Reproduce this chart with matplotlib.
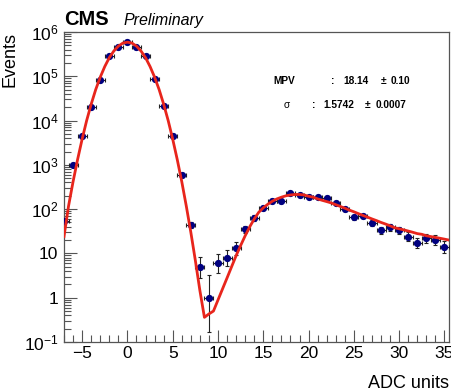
import numpy as np
import matplotlib.pyplot as plt
from matplotlib.ticker import FixedLocator, FixedFormatter, LogLocator, MultipleLocator, NullFormatter

plt.rcParams['font.family'] = ['Liberation Sans', 'DejaVu Sans']
plt.rcParams['mathtext.fontset'] = 'custom'
plt.rcParams['mathtext.rm'] = 'Liberation Sans'
plt.rcParams['mathtext.default'] = 'regular'

# measured spectrum, one entry per ADC bin
adc_bins = np.arange(-7, 36)
counts = [54, 1000, 4500, 20000, 83000, 290000, 460000, 600000, 460000, 280000,
          87000, 21000, 4500, 580, 44, 5, 1, 6, 8, 13,
          35, 63, 105, 150, 150, 230, 205, 185, 185, 177,
          137, 100, 66, 70, 48, 33, 39, 33, 24, 17,
          22, 20, 14]

# fitted pedestal + signal curve, read every half ADC unit
fit_x = np.arange(-7, 35.51, 0.5)
fit_y = [24, 117, 417, 1320, 3800, 10000, 23400, 50100, 95500, 166000,
         263000, 372000, 479000, 562000, 589000, 562000, 479000, 372000, 263000, 166000,
         95500, 50100, 23400, 10000, 3800, 1320, 417, 117, 30, 6.9,
         1.45, 0.36, 0.43, 0.50, 0.89, 1.58, 2.8, 5.0, 8.9, 15.1,
         25.1, 39.8, 60, 85, 107, 129, 151, 170, 186, 200,
         209, 214, 214, 209, 195, 186, 170, 158, 148, 138,
         126, 115, 105, 95, 87, 79, 72, 66, 60, 55,
         50, 46, 42, 38, 36, 34, 32, 30, 28, 27,
         25, 24, 23, 22, 21, 20]

mpv_text = ['MPV', ':', '18.14', '\u00b1', '0.10']
sigma_text = ['\u03c3', ':', '1.5742', '\u00b1', '0.0007']

y_ticks = [1e-1, 1, 10, 1e2, 1e3, 1e4, 1e5, 1e6]
y_labels = ['$10^{-1}$', '1', '10', '$10^{2}$', '$10^{3}$', '$10^{4}$', '$10^{5}$', '$10^{6}$']

n = np.array(counts, dtype=float)
# approximate Poisson 68% intervals (Wilson-Hilferty)
lo = n * (1 - 1 / (9 * n) - 1 / (3 * np.sqrt(n))) ** 3
hi = (n + 1) * (1 - 1 / (9 * (n + 1)) + 1 / (3 * np.sqrt(n + 1))) ** 3

fig = plt.figure(figsize=(4.52, 3.92), dpi=100)
ax = fig.add_axes([0.1416, 0.1276, 0.8518, 0.7908])

ax.errorbar(adc_bins, n, yerr=[n - lo, hi - n], xerr=0.5, fmt='o', color='#00007f',
            ecolor='#222222', elinewidth=0.8, capsize=1.5, capthick=0.8, markersize=4.2, zorder=3)
ax.plot(fit_x, fit_y, color='#e8251c', linewidth=2.0, zorder=4)

ax.set_yscale('log')
ax.set_xlim(-7, 35.5)
ax.set_ylim(0.1, 1e6)

ax.yaxis.set_major_locator(FixedLocator(y_ticks))
ax.yaxis.set_major_formatter(FixedFormatter(y_labels))
ax.yaxis.set_minor_locator(LogLocator(base=10, subs=np.arange(2, 10), numticks=20))
ax.yaxis.set_minor_formatter(NullFormatter())
ax.xaxis.set_major_locator(MultipleLocator(5))
ax.xaxis.set_minor_locator(MultipleLocator(1))

ax.tick_params(which='both', direction='in', top=False, right=False, labelsize=12.5, width=0.8, color='#555555')
ax.tick_params(which='major', length=9)
ax.tick_params(which='minor', length=5)
ax.tick_params(axis='x', pad=3)
ax.tick_params(axis='y', pad=4)
for s in ax.spines.values():
    s.set_color('#555555')
    s.set_linewidth(0.9)

ax.set_ylabel('Events', fontsize=13, loc='top', labelpad=4)
ax.set_xlabel('ADC units', fontsize=13, loc='right', labelpad=10)

fig.text(0.1416, 0.935, 'CMS', fontsize=14.5, fontweight='bold', ha='left', va='baseline')
fig.text(0.274, 0.935, 'Preliminary', fontsize=11.5, style='italic', ha='left', va='baseline')

x_cols = [0.605, 0.732, 0.76, 0.843, 0.865]
sig_cols = [0.628, 0.69, 0.715, 0.808, 0.83]
for txt, xc in zip(mpv_text, x_cols):
    fig.text(xc, 0.794, txt, fontsize=7.3, fontweight='bold', ha='left', va='center')
for txt, xc in zip(sigma_text, sig_cols):
    fig.text(xc, 0.733, txt, fontsize=7.3, fontweight='bold' if txt != '\u03c3' else 'normal',
             ha='left', va='center')

fig.savefig('out.png', dpi=100)
